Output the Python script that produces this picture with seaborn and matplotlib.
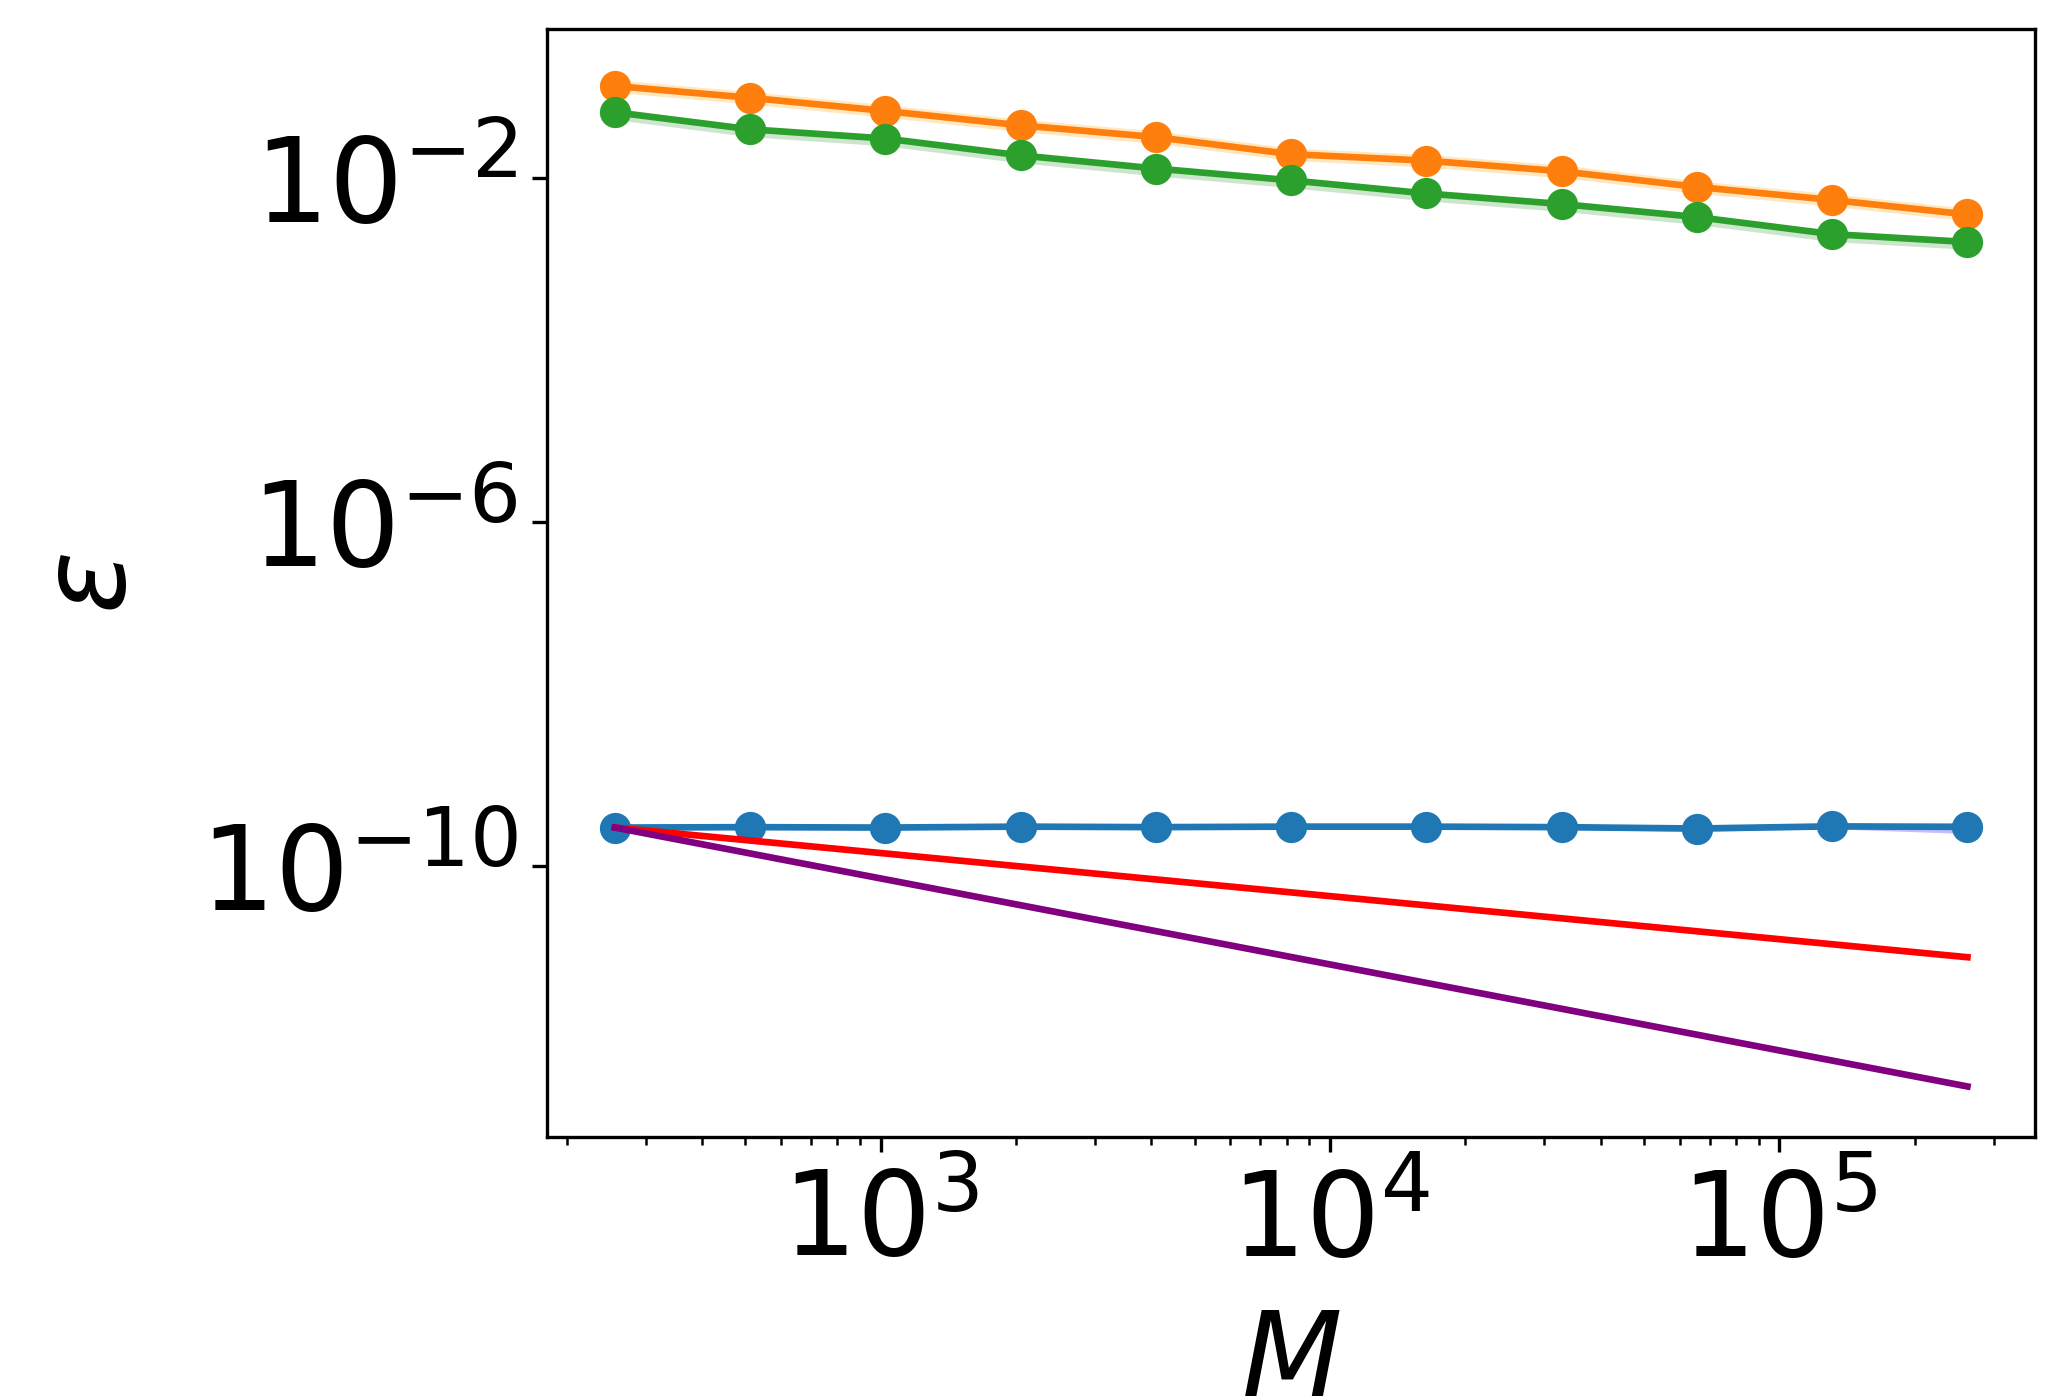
import matplotlib
matplotlib.use("Agg")
import matplotlib.pyplot as plt
import matplotlib.ticker as mticker
import seaborn as sns

# Taille des échantillons M
M = [256, 512, 1024, 2048, 4096, 8192, 16384, 32768, 65536, 131072, 262144]

# Erreur (orange)
err_orange = [0.1167, 0.0851, 0.0598, 0.0407, 0.0297, 0.0188, 0.0158, 0.0119, 0.00782, 0.00551, 0.00374]
err_orange_lo = [0.0985, 0.0718, 0.0505, 0.0343, 0.0250, 0.0159, 0.0133, 0.0100, 0.00660, 0.00465, 0.00315]
err_orange_hi = [0.1380, 0.1006, 0.0707, 0.0481, 0.0351, 0.0222, 0.0187, 0.0141, 0.00924, 0.00651, 0.00442]

# Erreur (vert)
err_green = [0.0578, 0.0366, 0.0286, 0.0182, 0.0128, 0.00933, 0.00656, 0.00495, 0.00349, 0.00221, 0.00179]
err_green_lo = [0.0474, 0.0300, 0.0235, 0.0149, 0.0105, 0.00765, 0.00538, 0.00406, 0.00286, 0.00181, 0.00147]
err_green_hi = [0.0624, 0.0395, 0.0309, 0.0197, 0.0138, 0.01008, 0.00708, 0.00535, 0.00377, 0.00239, 0.00193]

# Erreur (bleu)
err_blue = [2.77e-10, 2.80e-10, 2.77e-10, 2.84e-10, 2.80e-10, 2.84e-10, 2.84e-10, 2.80e-10, 2.70e-10, 2.86e-10, 2.82e-10]
err_blue_lo = [2.74e-10, 2.77e-10, 2.74e-10, 2.80e-10, 2.76e-10, 2.79e-10, 2.74e-10, 2.64e-10, 2.50e-10, 2.68e-10, 2.36e-10]
err_blue_hi = [2.80e-10, 2.83e-10, 2.80e-10, 2.88e-10, 2.84e-10, 2.90e-10, 2.95e-10, 2.96e-10, 2.86e-10, 3.08e-10, 3.12e-10]

# Droites de référence (M^-1/2 et M^-1), extrémités
M_ref = [256, 262144]
ref_half = [2.77e-10, 8.6e-12]
ref_one = [2.77e-10, 2.7e-13]

plt.rcParams['font.size'] = 28

fig, ax = plt.subplots(figsize=(2065 / 300, 1400 / 300), dpi=300)
fig.subplots_adjust(left=0.265, right=0.9855, top=0.979, bottom=0.188)
ax.set_xscale('log')
ax.set_yscale('log')

# Bandes d'incertitude
ax.fill_between(M, err_blue_lo, err_blue_hi, color='blue', alpha=0.25, linewidth=0)
ax.fill_between(M, err_orange_lo, err_orange_hi, color='orange', alpha=0.25, linewidth=0)
ax.fill_between(M, err_green_lo, err_green_hi, color='green', alpha=0.2, linewidth=0)

# Courbes avec marqueurs
style = dict(marker='o', markersize=7.5, markeredgewidth=0, linewidth=1.6, ax=ax)
sns.lineplot(x=M, y=err_blue, color='tab:blue', **style)
sns.lineplot(x=M, y=err_orange, color='tab:orange', **style)
sns.lineplot(x=M, y=err_green, color='tab:green', **style)

# Pentes de référence
sns.lineplot(x=M_ref, y=ref_half, color='red', linewidth=1.6, ax=ax)
sns.lineplot(x=M_ref, y=ref_one, color='purple', linewidth=1.6, ax=ax)

ax.set_yticks([1e-2, 1e-6, 1e-10])
ax.yaxis.set_minor_locator(mticker.NullLocator())

ax.set_xlabel(r'$M$', labelpad=6)
ax.set_ylabel(r'$\varepsilon$', labelpad=12)

plt.savefig('out.png', dpi=300)
